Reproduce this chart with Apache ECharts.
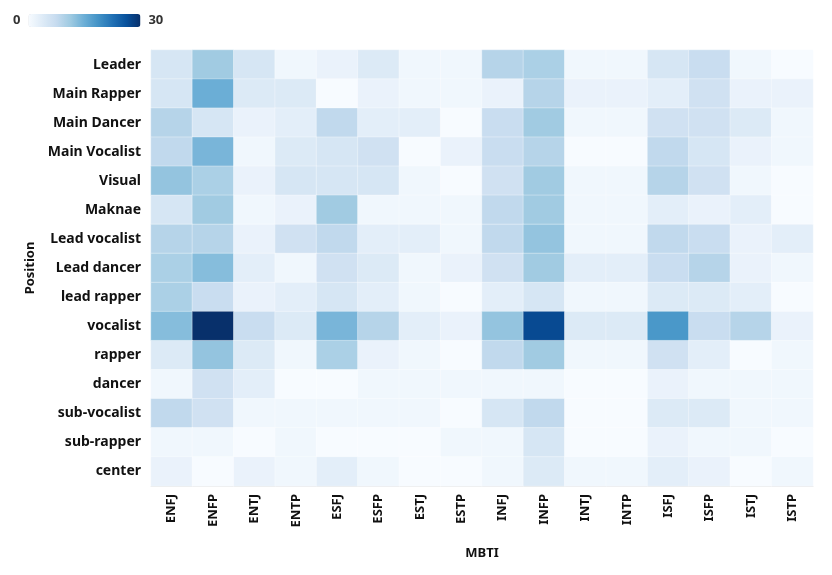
<!DOCTYPE html>
<html>
<head>
<meta charset="utf-8">
<script src="https://cdn.jsdelivr.net/npm/echarts@6/dist/echarts.min.js"></script>
<style>html,body{margin:0;padding:0;background:#fff}#c{width:832px;height:575px}</style>
</head>
<body>
<div id="c"></div>
<script>
var mbti = ['ENFJ','ENFP','ENTJ','ENTP','ESFJ','ESFP','ESTJ','ESTP','INFJ','INFP','INTJ','INTP','ISFJ','ISFP','ISTJ','ISTP'];
var positions = ['Leader','Main Rapper','Main Dancer','Main Vocalist','Visual','Maknae','Lead vocalist','Lead dancer','lead rapper','vocalist','rapper','dancer','sub-vocalist','sub-rapper','center'];

var rowLeader        = [5,11,5,1,2,4,1,1,9,10,1,1,5,7,1,0];
var rowMainRapper    = [5,15,4,4,0,2,1,1,2,9,2,2,3,6,2,2];
var rowMainDancer    = [9,5,2,3,8,3,3,0,7,11,1,1,6,6,4,1];
var rowMainVocalist  = [8,14,1,4,5,6,0,2,7,9,0,0,8,5,2,1];
var rowVisual        = [12,10,2,5,5,5,1,0,6,11,1,1,9,6,1,0];
var rowMaknae        = [5,11,1,2,11,1,1,1,8,11,1,1,3,2,3,0];
var rowLeadVocalist  = [9,9,2,6,8,3,3,1,8,12,1,1,8,7,2,3];
var rowLeadDancer    = [10,13,3,1,6,4,1,2,6,11,3,3,7,9,2,1];
var rowLeadRapper    = [10,7,2,3,5,3,1,0,3,5,1,1,4,4,3,0];
var rowVocalist      = [13,30,7,4,14,9,3,2,12,27,4,4,18,7,9,2];
var rowRapper        = [4,12,4,1,10,2,1,0,8,11,1,1,6,3,0,1];
var rowDancer        = [1,6,3,0,0,1,1,1,1,1,0,0,2,1,1,1];
var rowSubVocalist   = [8,6,1,1,1,1,1,0,5,8,0,0,4,4,1,1];
var rowSubRapper     = [1,1,0,1,0,0,0,1,1,5,0,0,2,1,1,0];
var rowCenter        = [2,0,2,1,3,1,0,0,1,4,1,1,3,2,0,1];

var rows = [rowLeader,rowMainRapper,rowMainDancer,rowMainVocalist,rowVisual,rowMaknae,rowLeadVocalist,rowLeadDancer,rowLeadRapper,rowVocalist,rowRapper,rowDancer,rowSubVocalist,rowSubRapper,rowCenter];

var data = [];
rows.forEach(function(r, yi){ r.forEach(function(v, xi){ data.push([xi, yi, v]); }); });

var font = '"Noto Sans", sans-serif';
var chart = echarts.init(document.getElementById('c'), null, {renderer:'canvas'});
chart.setOption({
  animation: false,
  grid: {left: 151, right: 19, top: 50, bottom: 89},
  xAxis: {
    type: 'category', data: mbti,
    name: 'MBTI', nameLocation: 'middle', nameGap: 61,
    nameTextStyle: {fontFamily: font, fontWeight: 'bold', fontSize: 13, color: '#111'},
    axisLine: {lineStyle: {color: '#e6e6e6'}},
    axisTick: {lineStyle: {color: '#dddddd'}, length: 6},
    axisLabel: {rotate: 90, fontFamily: font, fontWeight: 'bold', fontSize: 13, color: '#111', margin: 8},
    splitArea: {show: false}
  },
  yAxis: {
    type: 'category', data: positions, inverse: true,
    name: 'Position', nameLocation: 'middle', nameGap: 112, nameRotate: 90,
    nameTextStyle: {fontFamily: font, fontWeight: 'bold', fontSize: 13, color: '#111'},
    axisLine: {lineStyle: {color: '#e6e6e6'}},
    axisTick: {lineStyle: {color: '#dddddd'}, length: 6},
    axisLabel: {fontFamily: font, fontWeight: 'bold', fontSize: 14, color: '#111', margin: 10}
  },
  visualMap: {
    type: 'continuous', min: 0, max: 30, calculable: false,
    orient: 'horizontal', left: 8, top: 10, padding: [4,5,5,5],
    itemWidth: 13, itemHeight: 112,
    text: ['30', '0'], textGap: 8,
    textStyle: {fontFamily: font, fontWeight: 'bold', fontSize: 13, color: '#333'},
    inRange: {color: ['#f7fbff','#deebf7','#c6dbef','#9ecae1','#6baed6','#4292c6','#2171b5','#08519c','#08306b']}
  },
  series: [{
    type: 'heatmap', data: data,
    itemStyle: {borderColor: 'rgba(255,255,255,0.6)', borderWidth: 0.6},
    emphasis: {disabled: true}
  }]
});
</script>
</body>
</html>
